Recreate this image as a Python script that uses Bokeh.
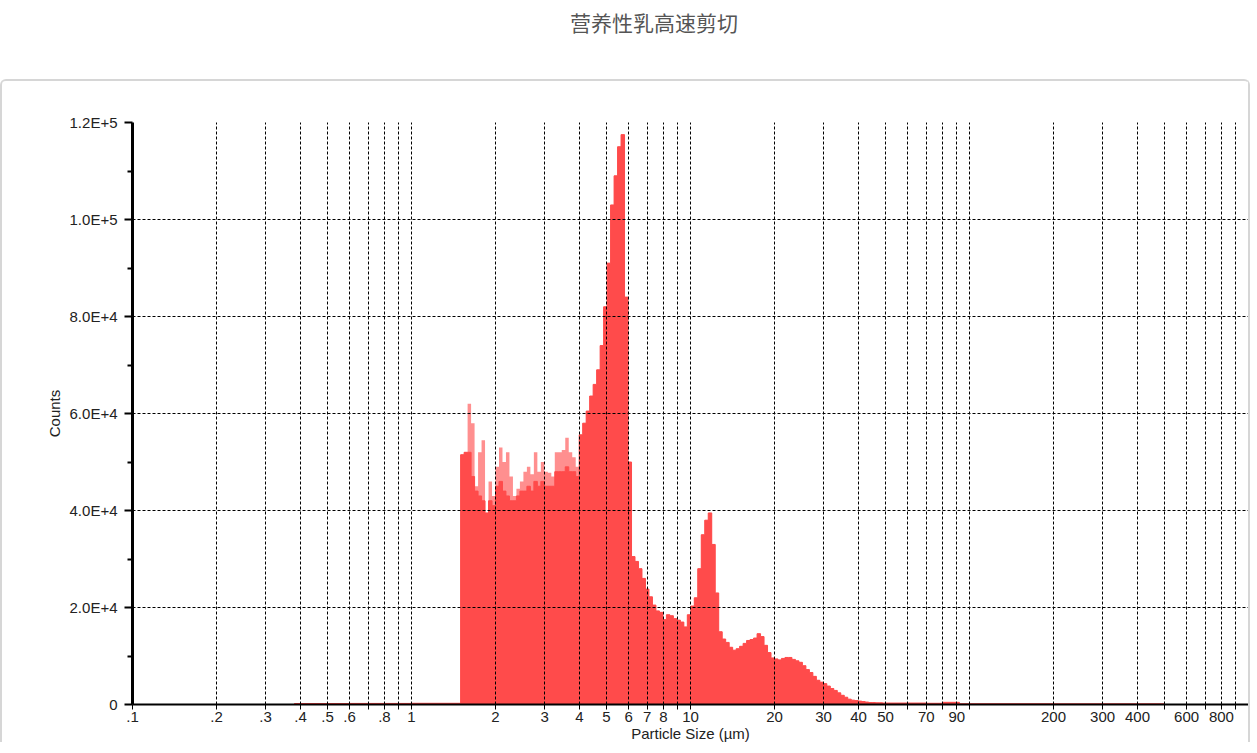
from bokeh.plotting import figure
from bokeh.models import Div, FixedTicker, CustomJSTickFormatter, ColumnDataSource
from bokeh.layouts import column
from bokeh.embed import file_html
from bokeh.resources import INLINE

# ---------------- data ----------------
title_text = "营养性乳高速剪切"
x_label = "Particle Size (µm)"
y_label = "Counts"

# main histogram: log-spaced bins starting at 1.5 µm, 80 bins per decade
bin_start_um = 1.5
bins_per_decade = 80
# upper envelope of the (noisy) counts per bin
counts = [
    51500, 52000, 62000, 58000, 45000, 52000, 54500, 39500, 46000, 43000,
    49000, 53000, 50000, 52000, 47000, 43000, 44500, 46000, 48000, 49000,
    47500, 52000, 48000, 50000, 48000, 47800, 47000, 52000, 52000, 52500,
    55000, 52000, 51000, 49000, 55600, 58000, 60500, 63600, 66000, 69000,
    74000, 82000, 91000, 103000, 109000, 115000, 117500, 84000, 50000, 30500,
    29500, 28000, 26000, 23800, 22200, 20500, 19300, 19000, 17500, 18500,
    18300, 17700, 17400, 17000, 16000, 18500, 20300, 22000, 28000, 35000,
    38000, 39500, 33000, 23000, 15000, 13500, 12800, 11800, 11200, 11500,
    12000, 12600, 13200, 13400, 13700, 14600, 14000, 12200, 10700, 9600,
    9400, 9200, 9500, 9700, 9700, 9300, 9000, 8700, 8000, 7200,
    6600, 5800, 5000, 4600, 4300, 3800, 3300, 2900, 2400, 1900,
    1500, 1100, 900, 800, 700, 600, 500, 400, 400, 350,
    350, 300,
]
# solid (lower) level of the first bins, where the envelope shows lighter spikes
counts_core_start = [
    51500, 52000, 52000, 47000, 44000, 43000, 42000, 39500, 42000, 41000,
    45000, 46000, 44000, 43000, 42000, 42000, 43000, 44000, 44000, 45000,
    44000, 46000, 45000, 46000, 45000, 45000, 45000, 48000, 48000, 48000,
    49000, 48000, 48000, 47000,
]

# sparse tails (wide bins)
low_tail_edges = [0.38, 0.6, 1.0, 1.5]
low_tail_counts = [200, 220, 250]
high_tail_edges = [50.2, 70.0, 80.0, 92.0, 200.0, 500.0]
high_tail_counts = [300, 250, 450, 150, 130]

x_ticks = [0.1, 0.2, 0.3, 0.4, 0.5, 0.6, 0.7, 0.8, 0.9,
           1, 2, 3, 4, 5, 6, 7, 8, 9,
           10, 20, 30, 40, 50, 60, 70, 80, 90,
           100, 200, 300, 400, 500, 600, 700, 800, 900, 1000]
x_tick_labels = [".1", ".2", ".3", ".4", ".5", ".6", "", ".8", "",
                 "1", "2", "3", "4", "5", "6", "7", "8", "",
                 "10", "20", "30", "40", "50", "", "70", "", "90",
                 "", "200", "300", "400", "", "600", "", "800", "", ""]
y_ticks = [0, 20000, 40000, 60000, 80000, 100000, 120000]
y_minor_ticks = [10000, 30000, 50000, 70000, 90000, 110000]
y_tick_labels = ["0", "2.0E+4", "4.0E+4", "6.0E+4", "8.0E+4", "1.0E+5", "1.2E+5"]

# ---------------- build step outlines (contiguous bins 0.38 .. 500 µm) ----------------
main_edges = [bin_start_um * 10 ** (i / bins_per_decade) for i in range(len(counts) + 1)]
edges = low_tail_edges[:-1] + main_edges[:-1] + high_tail_edges
env_vals = low_tail_counts + counts + high_tail_counts
core_counts = counts_core_start + counts[len(counts_core_start):]
core_vals = low_tail_counts + core_counts + high_tail_counts
env_src = ColumnDataSource(dict(x=edges, y=env_vals + [0]))
core_src = ColumnDataSource(dict(x=edges, y=core_vals + [0]))

RED = "#ff4b4b"
PINK = "#ff8f8f"
FONT = "Liberation Sans"

p = figure(width=1250, height=663, x_axis_type="log",
           x_range=(0.1, 1000), y_range=(0, 120000),
           output_backend="svg", toolbar_location=None,
           min_border_left=130, min_border_right=4,
           min_border_top=41, min_border_bottom=40,
           styles={"border-top": "2px solid #d6d6d6", "border-left": "2px solid #d6d6d6",
                   "border-right": "2px solid #d6d6d6", "border-radius": "6px 6px 0 0"})
p.outline_line_color = None
p.background_fill_color = "white"
p.border_fill_color = "white"

p.varea_step(x="x", y1=0, y2="y", step_mode="after", source=env_src, fill_color=PINK)
p.varea_step(x="x", y1=0, y2="y", step_mode="after", source=core_src, fill_color=RED)
p.step(x="x", y="y", mode="after", source=core_src, line_color=RED, line_width=1)

# grid
for g in (p.xgrid, p.ygrid):
    g.grid_line_color = "black"
    g.grid_line_dash = "3 2"
    g.grid_line_width = 1
    g.level = "overlay"

LOOKUP = """
    for (let i = 0; i < tv.length; i++) {
        if (Math.abs(tv[i] - tick) < 1e-6 * Math.max(1, tv[i])) return tl[i];
    }
    return "";
"""

# x axis
xa = p.xaxis[0]
xa.ticker = FixedTicker(ticks=x_ticks, minor_ticks=[])
xa.formatter = CustomJSTickFormatter(args=dict(tv=x_ticks, tl=x_tick_labels), code=LOOKUP)
xa.axis_line_color = "black"
xa.axis_line_width = 2
xa.major_tick_line_color = "black"
xa.major_tick_out = 5
xa.major_tick_in = 0
xa.major_label_standoff = 2
xa.major_label_text_font = FONT
xa.major_label_text_font_size = "15px"
xa.major_label_text_color = "#222222"
xa.axis_label = x_label
xa.axis_label_text_font = FONT
xa.axis_label_text_font_size = "15px"
xa.axis_label_text_font_style = "normal"
xa.axis_label_text_color = "#222222"
xa.axis_label_standoff = 0

# y axis
ya = p.yaxis[0]
ya.ticker = FixedTicker(ticks=y_ticks, minor_ticks=y_minor_ticks)
ya.formatter = CustomJSTickFormatter(args=dict(tv=y_ticks, tl=y_tick_labels), code=LOOKUP)
ya.axis_line_color = "black"
ya.axis_line_width = 3
ya.major_tick_line_color = "black"
ya.major_tick_line_width = 2
ya.major_tick_out = 8
ya.major_tick_in = 0
ya.minor_tick_line_color = "black"
ya.minor_tick_line_width = 2
ya.minor_tick_out = 5
ya.minor_tick_in = 0
ya.major_label_standoff = 7
ya.major_label_text_font = FONT
ya.major_label_text_font_size = "15px"
ya.major_label_text_color = "#222222"
ya.axis_label = y_label
ya.axis_label_text_font = FONT
ya.axis_label_text_font_size = "15px"
ya.axis_label_text_font_style = "normal"
ya.axis_label_text_color = "#222222"
ya.axis_label_standoff = 4

title_div = Div(
    text=("<div style=\"width:1241px;box-sizing:border-box;padding-left:57px;"
          "text-align:center;font-family:'Noto Sans CJK SC';font-size:21px;"
          "line-height:30px;padding-top:2px;color:#555555;\">" + title_text + "</div>"),
    width=1241, height=69)

layout = column(title_div, p, spacing=0)
open("out.html", "w").write(file_html(layout, INLINE))
